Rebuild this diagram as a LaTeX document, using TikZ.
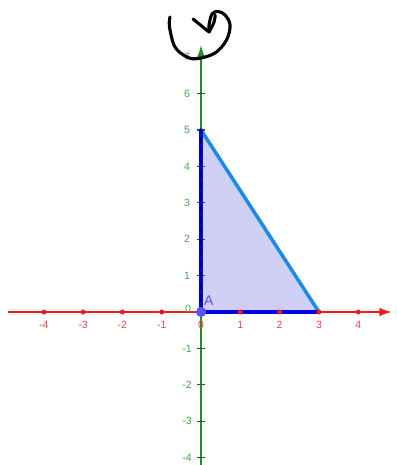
\documentclass[tikz,border=0pt]{standalone}
\usepackage{fontspec}
\setsansfont{Liberation Sans}
\usepackage{tikz}
\usetikzlibrary{calc, arrows.meta}
\usepackage{tkz-euclide}

\definecolor{axisred}{RGB}{232,30,30}
\definecolor{axisgreen}{RGB}{36,140,36}
\definecolor{labred}{RGB}{232,70,70}
\definecolor{labgreen}{RGB}{70,165,70}
\definecolor{polyfill}{RGB}{208,208,246}
\definecolor{hypblue}{RGB}{24,140,230}
\definecolor{edgeblue}{RGB}{0,0,225}
\definecolor{edgedark}{RGB}{0,0,120}
\definecolor{pointA}{RGB}{85,85,240}

\begin{document}
\begin{tikzpicture}[x=0.9825cm, y=0.91cm,
    xlab/.style={labred, font=\sffamily\fontsize{7.5}{9}\selectfont},
    ylab/.style={labgreen, font=\sffamily\fontsize{7.5}{9}\selectfont}]
      \useasboundingbox (-5.115,-4.203) rectangle (4.962,8.571);

      % 1. 三角形的頂點
      \tkzDefPoint(0,0){A}
      \tkzDefPoint(0,5){B}
      \tkzDefPoint(3,0){C}

      % 2. 填色
      \fill[polyfill] (A) -- (B) -- (C) -- cycle;

      % 3. 座標軸
      \draw[axisred, line width=1.1pt, -{Latex[length=9pt,width=6pt]}] (-4.911,0) -- (4.86,0);
      \draw[axisgreen, line width=1.1pt, -{Latex[length=9pt,width=6pt]}] (0,-4.203) -- (0,7.335);

      % 4. x 軸的數字
      \foreach \i in {-4,...,4} {
        \node[xlab] at (\i,-0.36) {\i};
      }

      % 5. y 軸的刻度與數字
      \foreach \j in {-4,...,7} {
        \ifnum\j=0
          \node[ylab] at (-0.33,0.08) {0};
        \else
          \draw[axisgreen!70!black, line width=0.8pt] (-0.1,\j) -- (0.1,\j);
          \node[ylab] at (-0.356,\j) {\j};
        \fi
      }

      % 6. 三角形的邊
      \tkzDrawSegment[hypblue, line width=2.5pt](B,C)
      \tkzDrawSegment[edgeblue, line width=2.2pt](A,C)
      \tkzDrawSegment[edgeblue, line width=2.4pt](A,B)
      \tkzDrawSegment[edgedark, line width=0.8pt, dash pattern=on 4pt off 4pt](A,B)

      % 7. x 軸的點
      \foreach \i in {-4,...,4} {
        \ifnum\i=0\else
          \fill[axisred] (\i,0) circle (1.8pt);
        \fi
      }

      % 8. 點 A
      \fill[pointA] (A) circle (3.6pt);
      \node[pointA, font=\sffamily\fontsize{10}{12}\selectfont] at (0.2,0.32) {A};

      % 9. 手寫的記號
      \draw[black, line width=2.2pt, line cap=round, line join=round]
        plot[smooth, tension=0.6] coordinates {(-0.789,8.104) (-0.802,7.830) (-0.662,7.280)
          (-0.356,7.005) (-0.076,6.964) (0.356,7.115) (0.649,7.473) (0.738,7.885)
          (0.611,8.159) (0.433,8.255) (0.280,8.187) (0.204,7.885) (0.204,7.692)}
        -- (-0.204,8.049);
      \draw[black, line width=2.2pt, line cap=round]
        plot[smooth, tension=0.6] coordinates {(0.204,7.692) (0.33,7.96) (0.36,8.16)};
    \end{tikzpicture}
\end{document}
